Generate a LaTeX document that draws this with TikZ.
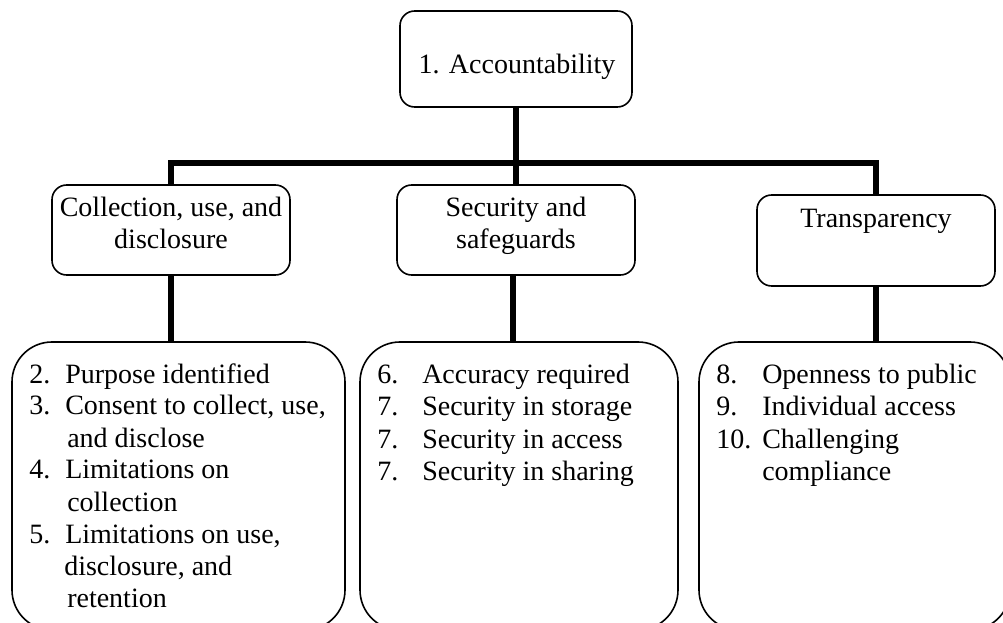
\documentclass[tikz,border=0pt]{standalone}
\usepackage{fontspec}
\setmainfont{Liberation Serif}
\usetikzlibrary{fit}
\begin{document}
\begin{tikzpicture}[x=0.75pt,y=-0.75pt,
  conn/.style={line width=4.5pt, line join=miter},
  midbox/.style={draw, line width=1.2pt, rounded corners=11pt, inner sep=0pt},
  bigbox/.style={draw, line width=1.2pt, rounded corners=30pt, inner sep=0pt},
  txt/.style={font=\fontsize{21}{24}\selectfont, inner sep=0pt}]
\useasboundingbox (0,0) rectangle (1003,623);
\clip (0,0) rectangle (1003,623);
% boxes
\node[midbox, fit={(400,11) (632,107)}] (top) {};
\node[midbox, fit={(52,185) (290,275)}] (c1) {};
\node[midbox, fit={(397,185) (635,275)}] (c2) {};
\node[midbox, fit={(757,195) (995,286)}] (c3) {};
\node[bigbox, fit={(12,342) (345,630)}] (b1) {};
\node[bigbox, fit={(360,342) (678,630)}] (b2) {};
\node[bigbox, fit={(699,342) (1010,630)}] (b3) {};
% box titles
\node[txt, anchor=base] (topt) at (517,74) {1. Accountability};
\node[txt, anchor=base] (c1a) at (171,217) {Collection, use, and};
\node[txt, anchor=base] (c1b) at (171,249) {disclosure};
\node[txt, anchor=base] (c2a) at (516,217) {Security and};
\node[txt, anchor=base] (c2b) at (516,249) {safeguards};
\node[txt, anchor=base] (c3a) at (876,228) {Transparency};
% list 1
\node[txt, anchor=base west] (l2n) at (29,383) {2.};
\node[txt, anchor=base west] (l2) at (65,383) {Purpose identified};
\node[txt, anchor=base west] (l3n) at (29,415) {3.};
\node[txt, anchor=base west] (l3) at (65,415) {Consent to collect, use,};
\node[txt, anchor=base west] (l3b) at (67,447) {and disclose};
\node[txt, anchor=base west] (l4n) at (29,479) {4.};
\node[txt, anchor=base west] (l4) at (65,479) {Limitations on};
\node[txt, anchor=base west] (l4b) at (67,511) {collection};
\node[txt, anchor=base west] (l5n) at (29,543) {5.};
\node[txt, anchor=base west] (l5) at (65,543) {Limitations on use,};
\node[txt, anchor=base west] (l5b) at (64,575) {disclosure, and};
\node[txt, anchor=base west] (l5c) at (67,607) {retention};
% list 2
\node[txt, anchor=base west] (l6n) at (377,383) {6.};
\node[txt, anchor=base west] (l6) at (422,383) {Accuracy required};
\node[txt, anchor=base west] (l7an) at (377,415.5) {7.};
\node[txt, anchor=base west] (l7a) at (422,415.5) {Security in storage};
\node[txt, anchor=base west] (l7bn) at (377,448) {7.};
\node[txt, anchor=base west] (l7b) at (422,448) {Security in access};
\node[txt, anchor=base west] (l7cn) at (377,480.5) {7.};
\node[txt, anchor=base west] (l7c) at (422,480.5) {Security in sharing};
% list 3
\node[txt, anchor=base west] (l8n) at (716,383) {8.};
\node[txt, anchor=base west] (l8) at (762,383) {Openness to public};
\node[txt, anchor=base west] (l9n) at (716,415.5) {9.};
\node[txt, anchor=base west] (l9) at (762,415.5) {Individual access};
\node[txt, anchor=base west] (l10n) at (716,448) {10.};
\node[txt, anchor=base west] (l10) at (762,448) {Challenging};
\node[txt, anchor=base west] (l10b) at (762,480.5) {compliance};
% connectors
\coordinate (barL) at (171,163);
\draw[conn] (c2.north |- top.south) -- (c2.north |- barL);
\draw[conn] (c1.north) -- (c1.north |- barL) -- (c3.north |- barL) -- (c3.north);
\draw[conn] (c2.north |- barL) -- (c2.north);
\draw[conn] (c1.south) -- (c1.south |- b1.north);
\draw[conn] ([xshift=-2.25pt]c2.south) -- ([xshift=-2.25pt]c2.south |- b2.north);
\draw[conn] (c3.south) -- (c3.south |- b3.north);
\end{tikzpicture}
\end{document}
